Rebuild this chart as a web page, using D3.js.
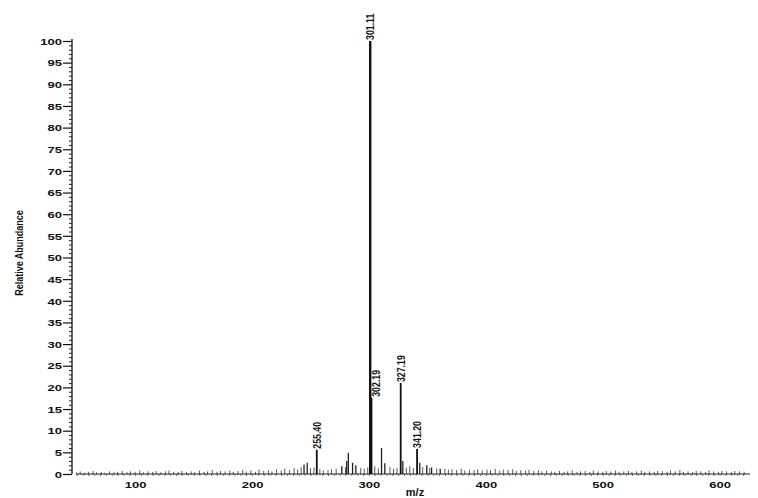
<!DOCTYPE html>
<html>
<head>
<meta charset="utf-8">
<script src="https://cdn.jsdelivr.net/npm/d3@7"></script>
<style>
  html, body { margin: 0; padding: 0; background: #fff; }
  svg { display: block; }
  text { font-family: "Liberation Sans", Arial, sans-serif; fill: #111; }
</style>
</head>
<body>
<svg id="chart" width="758" height="498"></svg>
<script>
// ---- data ----
const peakMz     = [255.40, 301.11, 302.19, 327.19, 341.20];
const peakInt    = [5.6, 100, 17.6, 21.0, 5.8];
const peakLabels = ["255.40", "301.11", "302.19", "327.19", "341.20"];

const minorMz  = [244.5, 247.2, 276.8, 281.0, 282.4, 286.0, 288.8, 310.8, 313.6, 329.0, 343.5, 349.5, 353.6, 361.0];
const minorInt = [2.2, 2.6, 1.8, 3.0, 4.9, 2.6, 2.0, 6.0, 2.5, 3.0, 2.6, 2.0, 1.5, 1.2];

const noiseMz  = [50,53,57,60,64,67,71,74,78,82,85,89,93,96,100,104,107,111,115,118,122,126,129,133,137,140,144,148,151,155,159,162,166,170,173,177,181,184,188,192,195,199,203,206,210,214,217,221,225,228,232,236,239,242,250,253,258,261,265,268,272,280,293,296,299,305,308,318,321,324,332,335,338,346,352,358,365,368,371,375,379,382,386,390,393,397,401,404,408,412,415,419,423,426,430,434,437,441,445,448,452,456,459,463,467,470,474,478,481,485,489,492,496,500,503,507,511,514,518,522,525,529,533,536,540,544,547,551,555,558,562,566,569,573,577,580,584,588,591,595,599,602,606,610,613,617,621];
const noiseInt = [0.4,0.6,0.3,0.5,0.7,0.4,0.5,0.3,0.6,0.4,0.5,0.7,0.4,0.6,0.5,0.8,0.4,0.6,0.5,0.7,0.4,0.6,0.8,0.5,0.4,0.7,0.5,0.6,0.4,0.8,0.5,0.6,0.9,0.5,0.7,0.6,0.8,0.5,0.7,0.9,0.6,0.8,0.5,1.0,0.7,0.9,0.6,1.1,0.8,1.2,0.9,1.4,1.0,1.6,1.3,1.5,1.1,0.8,0.9,1.1,1.2,1.6,1.4,1.2,1.5,1.8,1.3,1.6,1.2,1.4,1.5,1.8,1.4,1.6,1.4,1.3,1.2,1.0,1.1,0.9,1.2,0.8,1.0,0.9,1.1,0.8,1.0,0.9,1.2,0.8,1.0,0.9,1.1,0.7,0.9,0.8,1.0,0.7,0.9,0.6,0.8,0.6,0.5,0.7,0.5,0.6,0.8,0.5,0.6,0.7,0.5,0.8,0.6,0.5,0.7,0.6,0.8,0.5,0.6,0.7,0.5,0.6,0.8,0.5,0.6,0.5,0.7,0.6,0.5,0.8,0.6,0.9,0.5,0.6,0.5,0.7,0.6,0.5,0.8,0.6,0.5,0.7,0.6,0.5,0.7,0.6,0.5];

const xTickValues = [100, 200, 300, 400, 500, 600];
const yTickValues = [0,5,10,15,20,25,30,35,40,45,50,55,60,65,70,75,80,85,90,95,100];
const xTitle = "m/z";
const yTitle = "Relative Abundance";

// ---- layout ----
const svg = d3.select("#chart");
const x = d3.scaleLinear().domain([46, 626]).range([72, 750]);
const y = d3.scaleLinear().domain([0, 100]).range([474, 41]);

// baseline
svg.append("line")
  .attr("x1", x(50)).attr("x2", x(626))
  .attr("y1", y(0)).attr("y2", y(0))
  .attr("stroke", "#222").attr("stroke-width", 1);

// x axis minor ticks (downward)
svg.append("g")
  .attr("transform", `translate(0,${y(0)})`)
  .call(d3.axisBottom(x).tickValues(d3.range(50, 625, 5)).tickSize(2).tickFormat(""))
  .call(g => g.select(".domain").remove())
  .call(g => g.selectAll("line").attr("stroke", "#555").attr("stroke-width", 0.8));

// x axis labels
const xAxis = svg.append("g")
  .attr("transform", `translate(0,${y(0)})`)
  .call(d3.axisBottom(x).tickValues(xTickValues).tickSize(0).tickPadding(0))
  .call(g => g.select(".domain").remove());
xAxis.selectAll(".tick text").each(function(d) {
  const t = d3.select(this);
  t.attr("y", null).attr("dy", null)
   .attr("transform", "translate(0,14) scale(1.45,1)")
   .attr("font-size", 9).attr("font-weight", "bold")
   .attr("fill", "#111").attr("text-anchor", "middle");
});

// y axis
const yAxis = svg.append("g")
  .attr("transform", `translate(72,0)`)
  .call(d3.axisLeft(y).tickValues(yTickValues).tickSize(9).tickPadding(0));
yAxis.select(".domain").attr("d", `M0,${y(0)}V${y(100) - 2}`).attr("stroke", "#111").attr("stroke-width", 1.3);
yAxis.selectAll(".tick line").attr("stroke", "#111").attr("stroke-width", 1.2);
yAxis.selectAll(".tick text").each(function(d) {
  const t = d3.select(this);
  t.attr("x", null).attr("dy", null)
   .attr("transform", "translate(-10,3.2) scale(1.45,1)")
   .attr("font-size", 9).attr("font-weight", "bold")
   .attr("fill", "#111").attr("text-anchor", "end");
});
// y minor ticks
svg.append("g")
  .attr("transform", `translate(72,0)`)
  .call(d3.axisLeft(y).tickValues(d3.range(0, 101, 1).filter(v => v % 5 !== 0)).tickSize(3).tickFormat(""))
  .call(g => g.select(".domain").remove())
  .call(g => g.selectAll("line").attr("stroke", "#222").attr("stroke-width", 1));

// noise sticks
svg.append("g").selectAll("line")
  .data(noiseMz.map((m, i) => ({ m, v: noiseInt[i] })))
  .join("line")
  .attr("x1", d => x(d.m)).attr("x2", d => x(d.m))
  .attr("y1", y(0) + 1).attr("y2", d => y(d.v))
  .attr("stroke", "#444").attr("stroke-width", 0.9);

// minor peaks
svg.append("g").selectAll("line")
  .data(minorMz.map((m, i) => ({ m, v: minorInt[i] })))
  .join("line")
  .attr("x1", d => x(d.m)).attr("x2", d => x(d.m))
  .attr("y1", y(0)).attr("y2", d => y(d.v))
  .attr("stroke", "#222").attr("stroke-width", 1.3);

// labelled peaks
const peaks = peakMz.map((m, i) => ({ m, v: peakInt[i], label: peakLabels[i] }));
svg.append("g").selectAll("line")
  .data(peaks)
  .join("line")
  .attr("x1", d => x(d.m)).attr("x2", d => x(d.m))
  .attr("y1", y(0)).attr("y2", d => y(d.v))
  .attr("stroke", "#111")
  .attr("stroke-width", d => d.v > 50 ? 2.4 : 1.8);

// peak labels (shift right when a taller labelled peak sits within 2 Da)
svg.append("g").selectAll("text")
  .data(peaks)
  .join("text")
  .attr("transform", d => {
    const crowded = peaks.some(p => p !== d && Math.abs(p.m - d.m) < 2 && p.v > d.v);
    const px = x(d.m) + (crowded ? 5 : 0) + 3.8;
    return `translate(${px},${y(d.v) - 1}) rotate(-90) scale(0.8,1)`;
  })
  .attr("font-size", 11).attr("font-weight", "bold")
  .attr("text-anchor", "start")
  .text(d => d.label);

// titles
svg.append("text")
  .attr("transform", "translate(23,253) rotate(-90) scale(0.9,1)")
  .attr("text-anchor", "middle")
  .attr("font-size", 10).attr("font-weight", "bold")
  .text(yTitle);

svg.append("text")
  .attr("x", 415).attr("y", 496)
  .attr("text-anchor", "middle")
  .attr("font-size", 11).attr("font-weight", "bold")
  .text(xTitle);
</script>
</body>
</html>
